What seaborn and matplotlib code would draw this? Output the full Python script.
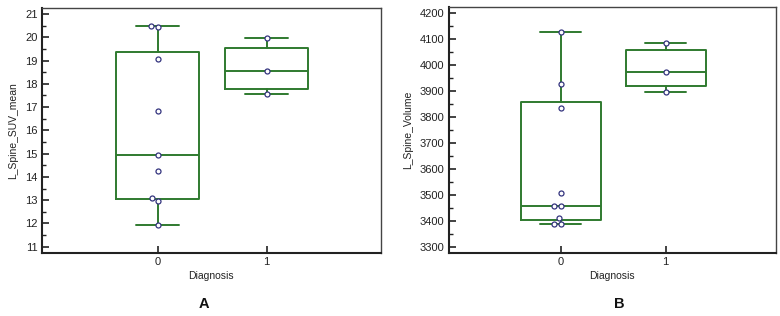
import matplotlib
matplotlib.use("Agg")
import matplotlib.pyplot as plt
import seaborn as sns
import pandas as pd
import numpy as np
from matplotlib.ticker import MultipleLocator

sns.set_theme(style="white")
plt.rcParams['font.family'] = ['Liberation Sans', 'DejaVu Sans']

# ---- data ----
groups = ["0", "1"]
suv_g0 = [11.95, 12.95, 13.1, 14.25, 14.95, 16.85, 19.05, 20.45, 20.5]
suv_g1 = [17.55, 18.55, 19.95]
vol_g0 = [3390, 3392, 3413, 3458, 3460, 3511, 3835, 3929, 4129]
vol_g1 = [3898, 3975, 4087]

# box statistics as drawn (MedCalc percentile method)
suv_q1 = [13.03, 17.78]
suv_med = [14.95, 18.55]
suv_q3 = [19.38, 19.56]
suv_wlo = [11.95, 17.55]
suv_whi = [20.5, 19.95]

vol_q1 = [3407, 3919]
vol_med = [3459, 3975]
vol_q3 = [3858, 4057]
vol_wlo = [3390, 3898]
vol_whi = [4129, 4087]

green = "#2f7a2f"
navy = "#34347e"

fig = plt.figure(figsize=(7.8, 3.16), dpi=100)
axA = fig.add_axes([41.7/780, 1-253/316, (381-41.7)/780, (253-7.5)/316])
axB = fig.add_axes([448.7/780, 1-252.7/316, (776-448.7)/780, (252.7-7.3)/316])


def panel(ax, g0, g1, q1, med, q3, wlo, whi, ylabel, ylim, major, minor, letter, letter_x):
    df = pd.DataFrame({"Diagnosis": [groups[0]] * len(g0) + [groups[1]] * len(g1),
                       "val": list(g0) + list(g1)})
    stats = []
    for i in range(2):
        stats.append(dict(med=med[i], q1=q1[i], q3=q3[i], whislo=wlo[i], whishi=whi[i],
                          fliers=[]))
    lp = dict(color=green, linewidth=1.4)
    ax.bxp(stats, positions=[0, 1], widths=0.76, capwidths=0.39, showfliers=False,
           boxprops=lp, whiskerprops=lp, capprops=lp, medianprops=lp, manage_ticks=False)
    sns.swarmplot(data=df, x="Diagnosis", y="val", order=groups, ax=ax, size=3.6,
                  color="white", edgecolor=navy, linewidth=0.9, zorder=5)
    ax.set_xlim(-1.065, 2.05)
    ax.set_ylim(*ylim)
    ax.set_xticks([0, 1])
    ax.set_xticklabels(groups)
    ax.yaxis.set_major_locator(MultipleLocator(major))
    ax.yaxis.set_minor_locator(MultipleLocator(minor))
    ax.tick_params(axis="both", which="major", direction="in", length=5, width=1.2,
                   labelsize=8, color="#222222", labelcolor="#222222", pad=3,
                   left=True, bottom=True)
    ax.tick_params(axis="y", which="minor", direction="in", length=3, width=1.0,
                   color="#222222", left=True)
    ax.set_ylabel(ylabel, fontsize=7.5, color="#222222", labelpad=5)
    ax.set_xlabel("Diagnosis", fontsize=7.5, color="#222222", labelpad=3)
    for s in ["left", "bottom"]:
        ax.spines[s].set_color("#222222")
        ax.spines[s].set_linewidth(1.5)
    for s in ["top", "right"]:
        ax.spines[s].set_color("#444444")
        ax.spines[s].set_linewidth(1.0)
    fig.text(letter_x, 1 - 304/316, letter, fontsize=10.5, fontweight="bold",
             ha="center", va="center", color="#111111")


panel(axA, suv_g0, suv_g1, suv_q1, suv_med, suv_q3, suv_wlo, suv_whi,
      "L_Spine_SUV_mean", (10.73, 21.28), 1, 0.5, "A", 204/780)
panel(axB, vol_g0, vol_g1, vol_q1, vol_med, vol_q3, vol_wlo, vol_whi,
      "L_Spine_Volume", (3280, 4223), 100, 50, "B", 619/780)

fig.savefig("out.png", dpi=100)
